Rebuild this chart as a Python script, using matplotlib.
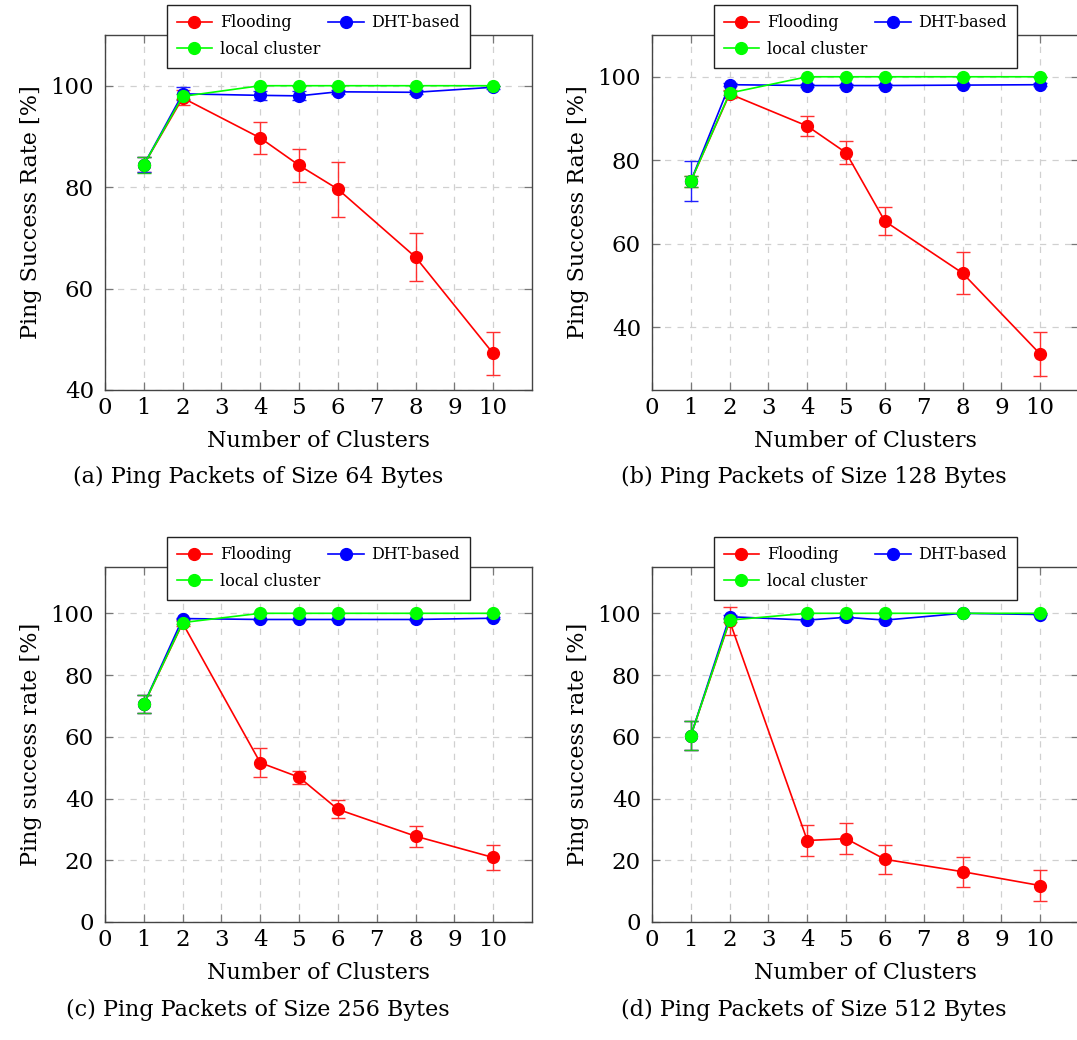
import matplotlib
matplotlib.use("Agg")
import matplotlib.pyplot as plt

plt.rcParams['font.family'] = ['DejaVu Serif']
plt.rcParams['mathtext.fontset'] = 'dejavuserif'

clusters = [1, 2, 4, 5, 6, 8, 10]

# (a) 64 bytes
flood_a = [84.4, 97.6, 89.7, 84.3, 79.6, 66.2, 47.2]
flood_a_err = [1.5, 1.5, 3.1, 3.3, 5.4, 4.8, 4.3]
dht_a = [84.4, 98.4, 98.1, 98.0, 98.8, 98.7, 99.7]
dht_a_err = [1.5, 1.3, 0.9, 0.9, 0.4, 0.4, 0.3]
local_a = [84.4, 97.9, 100, 100, 100, 100, 100]
local_a_err = [1.6, 0.5, 0, 0, 0, 0, 0]

# (b) 128 bytes
flood_b = [75.0, 95.9, 88.2, 81.8, 65.4, 53.0, 33.6]
flood_b_err = [1.3, 1.0, 2.4, 2.8, 3.4, 5.0, 5.2]
dht_b = [75.0, 98.1, 97.9, 97.9, 97.9, 98.0, 98.1]
dht_b_err = [4.8, 0.3, 0.3, 0.3, 0.3, 0.3, 0.3]
local_b = [75.0, 96.1, 100, 100, 100, 100, 100]
local_b_err = [1.3, 0.5, 0, 0, 0, 0, 0]

# (c) 256 bytes
flood_c = [70.5, 96.8, 51.6, 46.9, 36.5, 27.8, 20.9]
flood_c_err = [2.9, 1.0, 4.7, 2.1, 2.9, 3.4, 4.2]
dht_c = [70.5, 98.3, 98.0, 98.0, 98.0, 98.0, 98.4]
dht_c_err = [2.9, 0.3, 0.3, 0.3, 0.3, 0.3, 0.3]
local_c = [70.5, 97.0, 100, 100, 100, 100, 100]
local_c_err = [2.9, 0.5, 0, 0, 0, 0, 0]

# (d) 512 bytes
flood_d = [60.3, 97.5, 26.4, 27.0, 20.3, 16.3, 11.8]
flood_d_err = [4.7, 4.6, 5.1, 5.0, 4.8, 4.8, 5.1]
dht_d = [60.3, 98.9, 97.8, 98.7, 97.8, 100, 99.6]
dht_d_err = [4.7, 0.5, 0.4, 0.4, 0.4, 0.2, 0.2]
local_d = [60.3, 97.8, 100, 100, 100, 100, 100]
local_d_err = [4.7, 0.5, 0, 0, 0, 0, 0]

panels = [
    (flood_a, flood_a_err, dht_a, dht_a_err, local_a, local_a_err,
     (40, 110), [40, 60, 80, 100], "Ping Success Rate [%]", "(a) Ping Packets of Size 64 Bytes"),
    (flood_b, flood_b_err, dht_b, dht_b_err, local_b, local_b_err,
     (25, 110), [40, 60, 80, 100], "Ping Success Rate [%]", "(b) Ping Packets of Size 128 Bytes"),
    (flood_c, flood_c_err, dht_c, dht_c_err, local_c, local_c_err,
     (0, 115), [0, 20, 40, 60, 80, 100], "Ping success rate [%]", "(c) Ping Packets of Size 256 Bytes"),
    (flood_d, flood_d_err, dht_d, dht_d_err, local_d, local_d_err,
     (0, 115), [0, 20, 40, 60, 80, 100], "Ping success rate [%]", "(d) Ping Packets of Size 512 Bytes"),
]

W, H = 1077, 1040
fig = plt.figure(figsize=(W / 100, H / 100), dpi=100)

# axes boxes in pixels: left, top, right, bottom
boxes = [(105, 35, 532, 390), (652, 35, 1079, 390),
         (105, 567, 532, 922), (652, 567, 1079, 922)]
caption_x = [258, 814, 258, 814]
caption_y = [477, 477, 1010, 1010]

for i, p in enumerate(panels):
    fl, fle, dh, dhe, lo, loe, ylim, yticks, ylab, cap = p
    l, t, r, b = boxes[i]
    ax = fig.add_axes([l / W, 1 - b / H, (r - l) / W, (b - t) / H])

    kw = dict(marker='o', markersize=8.5, linewidth=1.2, capsize=5,
              elinewidth=1.0, capthick=1.0)
    h1 = ax.errorbar(clusters, fl, yerr=fle, color='#ff0000', ecolor='#ff3030', **kw)
    h2 = ax.errorbar(clusters, dh, yerr=dhe, color='#0000ff', ecolor='#2020ff', **kw)
    h3 = ax.errorbar(clusters, lo, yerr=loe, color='#00ee00', ecolor='#20c020', **kw)
    for h, c in [(h1, '#ff0000'), (h2, '#0000ff'), (h3, '#00ff00')]:
        h.lines[0].set_color(c)
        h.lines[0].set_markerfacecolor(c)
        h.lines[0].set_markeredgecolor(c)

    ax.set_xlim(0, 11)
    ax.set_ylim(*ylim)
    ax.set_xticks(range(0, 11))
    ax.set_yticks(yticks)
    ax.grid(True, linestyle=(0, (5, 5)), color='#d0d0d0', linewidth=0.9)
    ax.set_axisbelow(True)
    ax.tick_params(direction='in', top=True, right=True, length=6,
                   color='#777777', width=0.9, labelsize=16.5)
    ax.tick_params(axis='x', pad=5)
    ax.tick_params(axis='y', pad=8)
    for s in ax.spines.values():
        s.set_color('#444444')
        s.set_linewidth(1.0)

    ax.set_xlabel("Number of Clusters", fontsize=16, labelpad=8)
    ax.set_ylabel(ylab, fontsize=16, labelpad=6)

    leg = ax.legend([h1.lines[0], h3.lines[0], h2.lines[0]],
                    ['Flooding', 'local cluster', 'DHT-based'],
                    ncol=2, loc='upper center', bbox_to_anchor=(0.5, 1.085),
                    borderaxespad=0, fontsize=11.5, fancybox=False, framealpha=1,
                    edgecolor='#222222', handlelength=2.2, columnspacing=0.5,
                    handletextpad=0.5, borderpad=0.6, labelspacing=0.6)
    leg.get_frame().set_linewidth(1.0)
    leg.set_zorder(10)

    fig.text(caption_x[i] / W, 1 - caption_y[i] / H, cap, fontsize=16,
             ha='center', va='center')

fig.savefig("out.png", dpi=100)
